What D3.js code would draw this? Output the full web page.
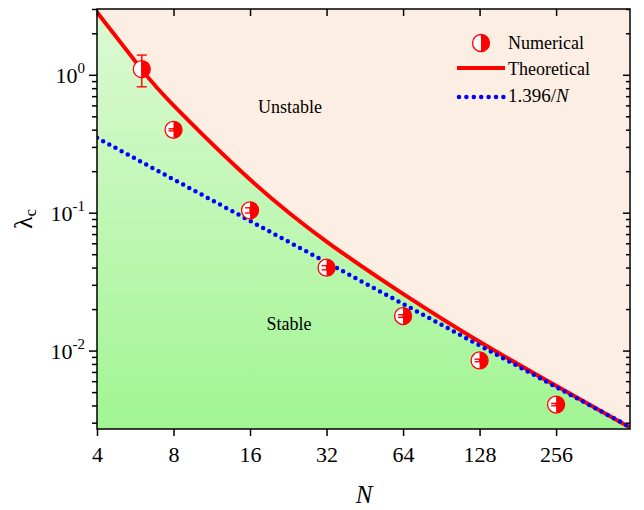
<!DOCTYPE html>
<html>
<head>
<meta charset="utf-8">
<script src="https://cdn.jsdelivr.net/npm/d3@7"></script>
<style>
  body { margin: 0; background: #fff; }
  svg { display: block; font-family: "Liberation Serif", "Times New Roman", serif; }
</style>
</head>
<body>
<div id="chart"></div>
<script>
// Data
const xTickValues = [4, 8, 16, 32, 64, 128, 256];
const yMajorValues = [1, 0.1, 0.01];
const yMajorExp = ['0', '-1', '-2'];

// numerical points with error bars
const numN = [6, 8, 16, 32, 64, 128, 256];
const numLambda = [1.10, 0.399, 0.104, 0.0399, 0.0178, 0.00848, 0.00406];
const numLow = [0.818, 0.392, 0.0995, 0.0385, 0.0174, 0.00830, 0.00398];
const numHigh = [1.39, 0.406, 0.1085, 0.0413, 0.0182, 0.00866, 0.00414];

// theoretical boundary curve
const theoN = [4, 6, 8, 16, 32, 64, 128, 256, 500];
const theoLambda = [2.84, 1.09, 0.60, 0.174, 0.0618, 0.0258, 0.0116, 0.00555, 0.00277];

// 1.396/N reference line (end points)
const fitN = [4, 500];
const fitLambda = [0.349, 0.00279];

const width = 644, height = 510;
const margin = { left: 97, top: 9, right: 14, bottom: 81 };
const x0 = margin.left, x1 = width - margin.right;
const y0 = margin.top, y1 = height - margin.bottom;

const x = d3.scaleLog().base(2).domain([4, 500]).range([x0, x1]);
const y = d3.scaleLog().domain([0.0027, 3]).range([y1, y0]);

const svg = d3.select('#chart').append('svg')
    .attr('width', width)
    .attr('height', height);

const defs = svg.append('defs');
const grad = defs.append('linearGradient')
    .attr('id', 'greenGrad')
    .attr('gradientUnits', 'userSpaceOnUse')
    .attr('x1', 0).attr('y1', y0).attr('x2', 0).attr('y2', y1);
grad.append('stop').attr('offset', 0).attr('stop-color', '#dcf9d3');
grad.append('stop').attr('offset', 1).attr('stop-color', '#a2f594');

defs.append('clipPath').attr('id', 'plotClip')
    .append('rect')
    .attr('x', x0).attr('y', y0)
    .attr('width', x1 - x0).attr('height', y1 - y0);

const theo = theoN.map((n, i) => ({ n, v: theoLambda[i] }));
const fit = fitN.map((n, i) => ({ n, v: fitLambda[i] }));

const plot = svg.append('g').attr('clip-path', 'url(#plotClip)');

// Unstable region background
plot.append('rect')
    .attr('x', x0).attr('y', y0)
    .attr('width', x1 - x0).attr('height', y1 - y0)
    .attr('fill', '#fdeee3');

// Stable region (below theoretical curve)
plot.append('path')
    .datum(theo)
    .attr('fill', 'url(#greenGrad)')
    .attr('d', d3.area()
        .x(d => x(d.n))
        .y0(y1)
        .y1(d => y(d.v))
        .curve(d3.curveNatural));

// Region labels
plot.append('text')
    .attr('x', 290).attr('y', 113)
    .attr('text-anchor', 'middle')
    .attr('font-size', 18)
    .text('Unstable');
plot.append('text')
    .attr('x', 289).attr('y', 330)
    .attr('text-anchor', 'middle')
    .attr('font-size', 18)
    .text('Stable');

// Theoretical line
plot.append('path')
    .datum(theo)
    .attr('fill', 'none')
    .attr('stroke', '#ff0000')
    .attr('stroke-width', 4)
    .attr('d', d3.line()
        .x(d => x(d.n))
        .y(d => y(d.v))
        .curve(d3.curveNatural));

// 1.396/N dotted line
plot.append('path')
    .datum(fit)
    .attr('fill', 'none')
    .attr('stroke', '#0000ff')
    .attr('stroke-width', 4.5)
    .attr('stroke-linecap', 'round')
    .attr('stroke-dasharray', '0,7')
    .attr('d', d3.line().x(d => x(d.n)).y(d => y(d.v)));

// Half-filled marker
const R = 8.5;
function drawMarker(g, cx, cy) {
    g.append('circle')
        .attr('cx', cx).attr('cy', cy).attr('r', R)
        .attr('fill', '#fff')
        .attr('stroke', '#ff0000')
        .attr('stroke-width', 1.3);
    g.append('path')
        .attr('d', `M${cx},${cy - R} A${R},${R} 0 0 1 ${cx},${cy + R} Z`)
        .attr('fill', '#ff0000');
}

const pts = svg.append('g');
numN.forEach((n, i) => {
    drawMarker(pts, x(n), y(numLambda[i]));
});

// Error bars
const err = svg.append('g')
    .attr('stroke', '#ff0000')
    .attr('stroke-width', 1.4);
numN.forEach((n, i) => {
    const cx = x(n);
    const yl = y(numLow[i]), yh = y(numHigh[i]);
    err.append('line').attr('x1', cx).attr('x2', cx).attr('y1', yl).attr('y2', yh);
    err.append('line').attr('x1', cx - 5).attr('x2', cx + 5).attr('y1', yl).attr('y2', yl);
    err.append('line').attr('x1', cx - 5).attr('x2', cx + 5).attr('y1', yh).attr('y2', yh);
});

// Frame
svg.append('rect')
    .attr('x', x0).attr('y', y0)
    .attr('width', x1 - x0).attr('height', y1 - y0)
    .attr('fill', 'none')
    .attr('stroke', '#000')
    .attr('stroke-width', 1.5);

// Minor y ticks
const yMinor = [];
[0.001, 0.01, 0.1, 1].forEach(dec => {
    for (let k = 2; k <= 9; k++) {
        const v = dec * k;
        if (v >= 0.0027 && v <= 3) yMinor.push(v);
    }
});

const tickStroke = g => g.selectAll('line').attr('stroke', '#000').attr('stroke-width', 1.5);

// Bottom axis
const xAxis = svg.append('g')
    .attr('transform', `translate(0,${y1})`)
    .call(d3.axisBottom(x).tickValues(xTickValues).tickSize(7).tickSizeOuter(0).tickFormat(d3.format('d')));
xAxis.select('.domain').remove();
xAxis.call(tickStroke);
xAxis.selectAll('text')
    .attr('font-size', 22)
    .attr('font-family', '"Liberation Serif", serif')
    .attr('fill', '#000')
    .attr('dy', '1.05em');

// Top mirror ticks (inward)
const xTop = svg.append('g')
    .attr('transform', `translate(0,${y0})`)
    .call(d3.axisBottom(x).tickValues(xTickValues).tickSize(7).tickSizeOuter(0).tickFormat(''));
xTop.select('.domain').remove();
xTop.call(tickStroke);

// Left axis: major + minor ticks (outward)
const yLeft = svg.append('g')
    .attr('transform', `translate(${x0},0)`)
    .call(d3.axisLeft(y).tickValues(yMajorValues).tickSize(8).tickSizeOuter(0).tickFormat(''));
yLeft.select('.domain').remove();
yLeft.call(tickStroke);
const yLeftMinor = svg.append('g')
    .attr('transform', `translate(${x0},0)`)
    .call(d3.axisLeft(y).tickValues(yMinor).tickSize(5).tickSizeOuter(0).tickFormat(''));
yLeftMinor.select('.domain').remove();
yLeftMinor.call(tickStroke);

// Right mirror ticks (inward)
const yRight = svg.append('g')
    .attr('transform', `translate(${x1},0)`)
    .call(d3.axisLeft(y).tickValues(yMajorValues).tickSize(7).tickSizeOuter(0).tickFormat(''));
yRight.select('.domain').remove();
yRight.call(tickStroke);
const yRightMinor = svg.append('g')
    .attr('transform', `translate(${x1},0)`)
    .call(d3.axisLeft(y).tickValues(yMinor).tickSize(4).tickSizeOuter(0).tickFormat(''));
yRightMinor.select('.domain').remove();
yRightMinor.call(tickStroke);

// Y tick labels with superscripts
yMajorValues.forEach((v, i) => {
    const t = svg.append('text')
        .attr('x', 85)
        .attr('y', y(v) + 8)
        .attr('text-anchor', 'end')
        .attr('font-size', 22)
        .attr('fill', '#000');
    t.append('tspan').text('10');
    t.append('tspan')
        .attr('font-size', 15)
        .attr('dy', -10)
        .text(yMajorExp[i]);
});

// Axis titles
svg.append('text')
    .attr('x', 364).attr('y', 503)
    .attr('text-anchor', 'middle')
    .attr('font-size', 25)
    .attr('font-style', 'italic')
    .text('N');

const yTitle = svg.append('text')
    .attr('transform', 'translate(32,219) rotate(-90)')
    .attr('text-anchor', 'middle')
    .attr('font-size', 26);
yTitle.append('tspan').text('λ');
yTitle.append('tspan').attr('font-size', 17).attr('dy', 4).text('c');

// Legend
const legend = svg.append('g');
drawMarker(legend, 481, 43);
legend.append('text').attr('x', 508).attr('y', 49).attr('font-size', 18).text('Numerical');
legend.append('line')
    .attr('x1', 457).attr('x2', 505).attr('y1', 68).attr('y2', 68)
    .attr('stroke', '#ff0000').attr('stroke-width', 4);
legend.append('text').attr('x', 508).attr('y', 75).attr('font-size', 18).text('Theoretical');
legend.append('line')
    .attr('x1', 459).attr('x2', 504).attr('y1', 97).attr('y2', 97)
    .attr('stroke', '#0000ff').attr('stroke-width', 4.5)
    .attr('stroke-linecap', 'round').attr('stroke-dasharray', '0,7.4');
const lt = legend.append('text').attr('x', 508).attr('y', 102).attr('font-size', 19);
lt.append('tspan').text('1.396/');
lt.append('tspan').attr('font-style', 'italic').text('N');
</script>
</body>
</html>
